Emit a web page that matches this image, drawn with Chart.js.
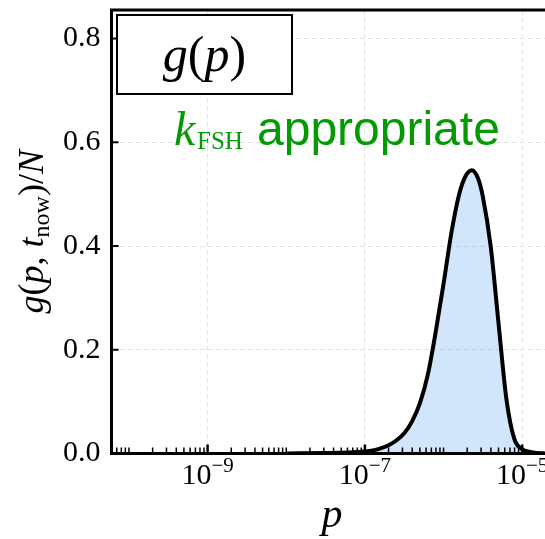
<!DOCTYPE html>
<html>
<head>
<meta charset="utf-8">
<script src="https://cdn.jsdelivr.net/npm/chart.js@4.4.0/dist/chart.umd.min.js"></script>
<style>
  html, body { margin: 0; padding: 0; background: #fff; }
  #wrap { width: 545px; height: 539px; }
</style>
</head>
<body>
<div id="wrap"><canvas id="myChart"></canvas></div>
<script>
"use strict";

// g(p, t_now)/N
const pValues = [1.0e-8, 3.16e-8, 6.31e-8, 1.0e-7, 1.26e-7, 1.58e-7, 2.0e-7, 2.51e-7, 3.16e-7,
  3.98e-7, 5.01e-7, 6.31e-7, 7.94e-7, 1.0e-6, 1.26e-6, 1.58e-6, 1.91e-6, 2.29e-6, 2.75e-6,
  3.16e-6, 3.98e-6, 5.01e-6, 6.31e-6, 7.94e-6, 1.0e-5, 1.26e-5, 1.58e-5, 2.0e-5];
const gValues = [0, 0.001, 0.002, 0.004, 0.006, 0.010, 0.016, 0.025, 0.039,
  0.062, 0.097, 0.152, 0.234, 0.327, 0.426, 0.500, 0.535, 0.546, 0.530,
  0.495, 0.399, 0.250, 0.104, 0.028, 0.008, 0.003, 0.001, 0];

// axes
const xMin = 6.0e-11;
const xMax = 1.95e-5;
const xTickExps = [-9, -7, -5];
const yMax = 0.855;
const yTicks = [0, 0.2, 0.4, 0.6, 0.8];

const boxLabel = "g(p)";
const noteLabel = "appropriate";

const SERIF = "'Liberation Serif', 'DejaVu Serif', serif";
const SANS = "'Liberation Sans', Arial, sans-serif";

// draw a row of text pieces, each with its own font and vertical shift
function drawRuns(ctx, runs, x, y, align) {
  let total = 0;
  runs.forEach((r) => {
    ctx.font = r.font;
    r.w = ctx.measureText(r.t).width;
    total += r.w;
  });
  let cx = align === "center" ? x - total / 2 : x;
  ctx.textAlign = "left";
  ctx.textBaseline = "alphabetic";
  runs.forEach((r) => {
    ctx.font = r.font;
    ctx.fillText(r.t, cx, y + (r.dy || 0));
    cx += r.w;
  });
}

const decorPlugin = {
  id: "decor",
  afterDatasetsDraw(chart) {
    const { ctx, chartArea: a, scales } = chart;
    const xs = scales.x;
    const ys = scales.y;
    ctx.save();

    // frame: bottom, left, top
    ctx.strokeStyle = "#000";
    ctx.lineWidth = 3;
    ctx.beginPath();
    ctx.moveTo(a.left, a.top);
    ctx.lineTo(a.right + 2, a.top);
    ctx.moveTo(a.left, a.top - 1.5);
    ctx.lineTo(a.left, a.bottom);
    ctx.moveTo(a.left - 1.5, a.bottom);
    ctx.lineTo(a.right + 2, a.bottom);
    ctx.stroke();

    // inward x ticks (decades and 2..9 multiples)
    for (let k = -11; k <= -4; k++) {
      for (let m = 1; m <= 9; m++) {
        const v = m * Math.pow(10, k);
        if (v < xMin || v > xMax) continue;
        const px = xs.getPixelForValue(v);
        const major = m === 1 && xTickExps.indexOf(k) >= 0;
        ctx.lineWidth = major ? 2.5 : 1.5;
        ctx.beginPath();
        ctx.moveTo(px, a.bottom);
        ctx.lineTo(px, a.bottom - (major ? 9 : 6));
        ctx.stroke();
      }
    }
    // inward y ticks
    ctx.lineWidth = 2;
    yTicks.forEach((v) => {
      const py = ys.getPixelForValue(v);
      ctx.beginPath();
      ctx.moveTo(a.left, py);
      ctx.lineTo(a.left + 7, py);
      ctx.stroke();
    });

    // x tick labels 10^k
    ctx.fillStyle = "#000";
    xTickExps.forEach((e) => {
      const px = xs.getPixelForValue(Math.pow(10, e));
      drawRuns(ctx, [
        { t: "10", font: "30px " + SERIF },
        { t: "\u2212" + Math.abs(e), font: "21px " + SERIF, dy: -12 },
      ], px, a.bottom + 30, "center");
    });

    // x title
    ctx.font = "italic 42px " + SERIF;
    ctx.textAlign = "center";
    ctx.textBaseline = "alphabetic";
    ctx.fillText("p", 332, 527);

    // y title, rotated
    ctx.save();
    ctx.translate(43, (a.top + a.bottom) / 2);
    ctx.rotate(-Math.PI / 2);
    const it = "italic 36px " + SERIF;
    const up = "36px " + SERIF;
    drawRuns(ctx, [
      { t: "g", font: it },
      { t: "(", font: up },
      { t: "p", font: it },
      { t: ", ", font: up },
      { t: "t", font: it },
      { t: "now", font: "24px " + SERIF, dy: 6 },
      { t: ")", font: up },
      { t: "/", font: up },
      { t: "N", font: it },
    ], 0, 0, "center");
    ctx.restore();

    // label box
    ctx.fillStyle = "#fff";
    ctx.fillRect(117, 15, 175, 79);
    ctx.lineWidth = 2;
    ctx.strokeStyle = "#000";
    ctx.strokeRect(117, 15, 175, 79);
    ctx.fillStyle = "#000";
    const big = "50px " + SERIF;
    const bigIt = "italic 50px " + SERIF;
    drawRuns(ctx, [
      { t: boxLabel[0], font: bigIt },
      { t: "(", font: big },
      { t: boxLabel[2], font: bigIt },
      { t: ")", font: big },
    ], 204.5, 71, "center");

    // green note
    ctx.fillStyle = "#049a04";
    drawRuns(ctx, [{ t: "k", font: "italic 48px " + SERIF }], 174, 145, "left");
    drawRuns(ctx, [{ t: "FSH", font: "25px " + SERIF }], 197, 149, "left");
    drawRuns(ctx, [{ t: noteLabel, font: "48px " + SANS }], 257, 145, "left");

    ctx.restore();
  },
};

const ctx = document.getElementById("myChart").getContext("2d");
const myChart = new Chart(ctx, {
  type: "line",
  data: {
    labels: pValues,
    datasets: [
      {
        data: pValues.map((p, i) => ({ x: p, y: gValues[i] })),
        borderColor: "#000",
        borderWidth: 4,
        backgroundColor: "rgba(40, 130, 235, 0.21)",
        fill: "origin",
        cubicInterpolationMode: "monotone",
        pointRadius: 0,
      },
    ],
  },
  options: {
    responsive: true,
    maintainAspectRatio: false,
    animation: false,
    layout: { padding: { left: 0, top: 10, right: 0, bottom: 0 } },
    plugins: { legend: { display: false }, tooltip: { enabled: false } },
    scales: {
      x: {
        type: "logarithmic",
        min: xMin,
        max: xMax,
        afterBuildTicks: (s) => {
          s.ticks = xTickExps.map((e) => ({ value: Math.pow(10, e) }));
        },
        afterFit: (s) => {
          s.height = 85.5;
          s.paddingLeft = 0;
          s.paddingRight = 0;
        },
        ticks: { display: false },
        grid: { color: "#e3e3e3", lineWidth: 1, drawTicks: false },
        border: { display: false, dash: [5, 3] },
      },
      y: {
        min: 0,
        max: yMax,
        afterBuildTicks: (s) => {
          s.ticks = yTicks.map((v) => ({ value: v }));
        },
        afterFit: (s) => {
          s.width = 111.5;
          s.paddingTop = 0;
          s.paddingBottom = 0;
        },
        ticks: {
          color: "#000",
          padding: 11,
          font: { family: SERIF, size: 30 },
          callback: (v) => v.toFixed(1),
        },
        grid: { color: "#e3e3e3", lineWidth: 1, drawTicks: false },
        border: { display: false, dash: [5, 3] },
      },
    },
  },
  plugins: [decorPlugin],
});
</script>
</body>
</html>
